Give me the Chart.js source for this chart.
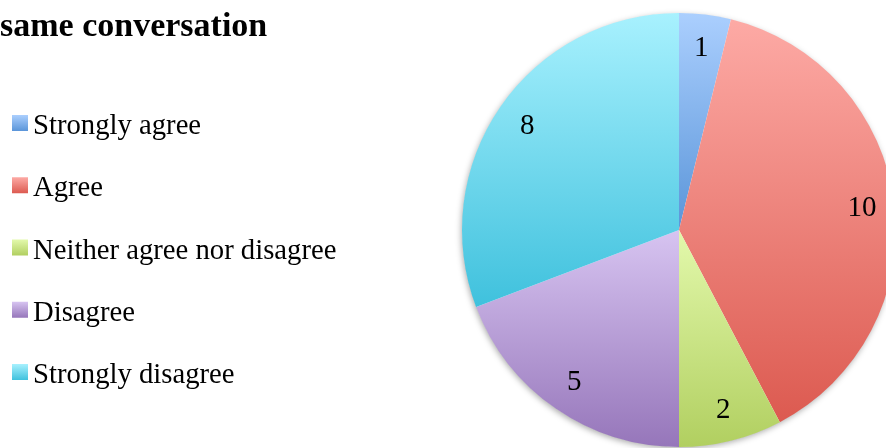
<!DOCTYPE html>
<html>
<head>
<meta charset="utf-8">
<title>same conversation</title>
<script src="https://cdn.jsdelivr.net/npm/chart.js@4.4.1/dist/chart.umd.min.js"></script>
<style>
  html, body { margin: 0; padding: 0; background: #fff; overflow: hidden; }
  #wrap { position: relative; width: 900px; height: 448px; }
</style>
</head>
<body>
<div id="wrap"><canvas id="pie"></canvas></div>
<script>
// ---- data ----
const chartTitle = 'same conversation';
const categories = ['Strongly agree', 'Agree', 'Neither agree nor disagree', 'Disagree', 'Strongly disagree'];
const counts = [1, 10, 2, 5, 8];

// office style gradients, light at the top of each shape, darker at the bottom
const topColors = ['#abcffe', '#fdaaa5', '#e3f9ac', '#d7c4f1', '#a8f1fe'];
const bottomColors = ['#5a95d9', '#dc5a50', '#b1cf60', '#9676ba', '#3fc1dd'];

const serif = "'Liberation Serif', 'Times New Roman', serif";

// vertical gradient over the slice's own bounding box
function sliceGradient(chart, i) {
    const area = chart.chartArea;
    if (!area) return topColors[i];
    const cx = (area.left + area.right) / 2;
    const cy = (area.top + area.bottom) / 2;
    const r = Math.min(area.right - area.left, area.bottom - area.top) / 2;
    const total = counts.reduce((a, b) => a + b, 0);
    let before = 0;
    for (let k = 0; k < i; k++) before += counts[k];
    const a0 = -Math.PI / 2 + 2 * Math.PI * before / total;
    const a1 = a0 + 2 * Math.PI * counts[i] / total;
    const ys = [cy, cy + r * Math.sin(a0), cy + r * Math.sin(a1)];
    if (a0 <= -Math.PI / 2 + 1e-6 || a1 >= 1.5 * Math.PI - 1e-6) ys.push(cy - r);
    if (a0 <= Math.PI / 2 && a1 >= Math.PI / 2) ys.push(cy + r);
    const g = chart.ctx.createLinearGradient(0, Math.min(...ys), 0, Math.max(...ys));
    g.addColorStop(0, topColors[i]);
    g.addColorStop(1, bottomColors[i]);
    return g;
}

// soft shadow under the pie
const pieShadow = {
    id: 'pieShadow',
    beforeDatasetsDraw(chart) {
        const arc = chart.getDatasetMeta(0).data[0];
        if (!arc) return;
        const { x, y, outerRadius } = arc.getProps(['x', 'y', 'outerRadius'], true);
        const ctx = chart.ctx;
        ctx.save();
        ctx.shadowColor = 'rgba(0,0,0,0.35)';
        ctx.shadowBlur = 6;
        ctx.shadowOffsetX = -1;
        ctx.shadowOffsetY = 2;
        ctx.fillStyle = '#ffffff';
        ctx.beginPath();
        ctx.arc(x, y, outerRadius - 0.5, 0, Math.PI * 2);
        ctx.fill();
        ctx.restore();
    }
};

// value labels inside the slices
const sliceLabels = {
    id: 'sliceLabels',
    afterDatasetsDraw(chart) {
        const ctx = chart.ctx;
        ctx.save();
        ctx.font = '29px ' + serif;
        ctx.fillStyle = '#000';
        ctx.textAlign = 'center';
        ctx.textBaseline = 'middle';
        chart.getDatasetMeta(0).data.forEach((arc, i) => {
            const p = arc.getProps(['x', 'y', 'startAngle', 'endAngle', 'outerRadius'], true);
            const mid = (p.startAngle + p.endAngle) / 2;
            const r = p.outerRadius * 0.85;
            ctx.fillText(String(counts[i]), p.x + Math.cos(mid) * r, p.y + Math.sin(mid) * r + 1);
        });
        ctx.restore();
    }
};

// title and left legend
const sideText = {
    id: 'sideText',
    afterDraw(chart) {
        const ctx = chart.ctx;
        ctx.save();
        ctx.fillStyle = '#000';
        ctx.textAlign = 'left';
        ctx.textBaseline = 'alphabetic';
        ctx.font = 'bold 34px ' + serif;
        ctx.fillText(chartTitle, 0, 36);

        ctx.font = '28.7px ' + serif;
        categories.forEach((label, i) => {
            const base = 134 + i * 62.25;
            const g = ctx.createLinearGradient(0, base - 19, 0, base - 3);
            g.addColorStop(0, topColors[i]);
            g.addColorStop(1, bottomColors[i]);
            ctx.fillStyle = g;
            ctx.fillRect(12, base - 19, 16, 16);
            ctx.fillStyle = '#000';
            ctx.fillText(label, 33, base);
        });
        ctx.restore();
    }
};

new Chart(document.getElementById('pie'), {
    type: 'pie',
    data: {
        labels: categories,
        datasets: [{
            data: counts,
            backgroundColor: (c) => sliceGradient(c.chart, c.dataIndex),
            borderWidth: 0,
            hoverOffset: 0
        }]
    },
    options: {
        responsive: true,
        maintainAspectRatio: false,
        animation: false,
        layout: { padding: { left: 462, right: 4, top: 13, bottom: 1 } },
        plugins: {
            legend: { display: false },
            tooltip: { enabled: false }
        }
    },
    plugins: [pieShadow, sliceLabels, sideText]
});
</script>
</body>
</html>
